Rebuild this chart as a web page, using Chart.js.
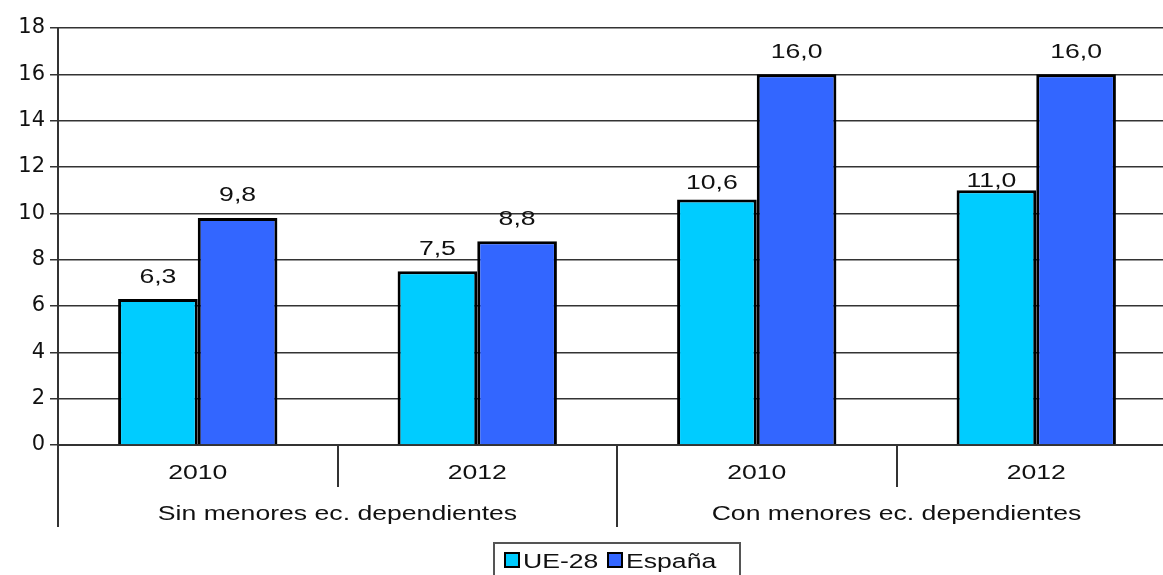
<!DOCTYPE html>
<html>
<head>
<meta charset="utf-8">
<script src="https://cdn.jsdelivr.net/npm/chart.js@4"></script>
<style>
  html, body { margin: 0; padding: 0; background: #fff; overflow: hidden; }
  #wrap { width: 1180px; height: 575px; }
</style>
</head>
<body>
<div id="wrap"><canvas id="myChart"></canvas></div>
<script>
// data
var years = ['2010', '2012', '2010', '2012'];
var groups = ['Sin menores ec. dependientes', 'Con menores ec. dependientes'];
var ue28 = [6.3, 7.5, 10.6, 11.0];
var espana = [9.8, 8.8, 16.0, 16.0];
var yTicks = [0, 2, 4, 6, 8, 10, 12, 14, 16, 18];

var FONT = "'Liberation Sans', Arial, sans-serif";
var TICKFONT = "'DejaVu Sans', sans-serif";
var SX = 1.33; // the original text is drawn wide

function fmt(v) {
    return v.toFixed(1).replace('.', ',');
}

function wideText(ctx, t, x, y, align) {
    ctx.save();
    ctx.translate(x, y);
    ctx.scale(SX, 1);
    ctx.font = '20px ' + FONT;
    ctx.fillStyle = '#111';
    ctx.textAlign = align || 'center';
    ctx.textBaseline = 'middle';
    ctx.fillText(t, 0, 0);
    ctx.restore();
}

// value labels above bars, grouped x axis, and the boxed legend
var extras = {
    id: 'extras',
    afterDatasetsDraw(chart) {
        var ctx = chart.ctx;
        var lifts = [[22, 22, 16, 9], [22, 22, 22, 22]];
        chart.data.datasets.forEach(function (ds, di) {
            chart.getDatasetMeta(di).data.forEach(function (bar, i) {
                wideText(ctx, fmt(ds.data[i]), bar.x - (di == 0 && i > 1 ? 5 : 0), bar.y - lifts[di][i]);
            });
        });
    },
    afterDraw(chart) {
        var ctx = chart.ctx;
        var x = chart.scales.x;
        var area = chart.chartArea;
        var n = years.length;
        var edges = [area.left];
        for (var i = 0; i < n - 1; i++) {
            edges.push((x.getPixelForValue(i) + x.getPixelForValue(i + 1)) / 2);
        }
        edges.push(area.right);

        ctx.save();
        ctx.strokeStyle = '#333';
        ctx.lineWidth = 2;
        edges.forEach(function (ex, i) {
            var long = (i % 2 == 0);
            ctx.beginPath();
            ctx.moveTo(Math.round(ex), area.bottom);
            ctx.lineTo(Math.round(ex), area.bottom + (long ? 82 : 42));
            ctx.stroke();
        });
        ctx.restore();

        years.forEach(function (yr, i) {
            wideText(ctx, yr, x.getPixelForValue(i), area.bottom + 28);
        });
        groups.forEach(function (g, gi) {
            wideText(ctx, g, edges[gi * 2 + 1], area.bottom + 69);
        });

        // legend
        ctx.save();
        ctx.strokeStyle = '#555';
        ctx.lineWidth = 2;
        ctx.strokeRect(494, 543, 246, 40);
        var pos = [505, 608];
        chart.data.datasets.forEach(function (ds, k) {
            ctx.fillStyle = ds.backgroundColor;
            ctx.fillRect(pos[k], 553, 14, 14);
            ctx.strokeStyle = '#000';
            ctx.lineWidth = 2;
            ctx.strokeRect(pos[k], 553, 14, 14);
        });
        ctx.restore();
        chart.data.datasets.forEach(function (ds, k) {
            wideText(ctx, ds.label, pos[k] + 18, 562, 'left');
        });
    }
};

const ctx = document.getElementById('myChart');

var c = new Chart(ctx, {
    type: 'bar',
    data: {
        labels: years,
        datasets: [{
            label: 'UE-28',
            data: ue28,
            backgroundColor: '#00CCFF',
            borderColor: '#000',
            borderWidth: 3
        }, {
            label: 'España',
            data: espana,
            backgroundColor: '#3366FF',
            borderColor: '#000',
            borderWidth: 3
        }]
    },
    options: {
        animation: false,
        responsive: true,
        maintainAspectRatio: false,
        layout: { padding: { top: 28, right: 4, left: 0, bottom: 0 } },
        datasets: { bar: { categoryPercentage: 0.57, barPercentage: 1 } },
        plugins: {
            legend: { display: false },
            tooltip: { enabled: false }
        },
        scales: {
            x: {
                grid: { display: false, drawTicks: false },
                border: { display: true, color: '#333', width: 2 },
                ticks: { display: false },
                afterFit: function (s) { s.height = 130; }
            },
            y: {
                min: 0,
                max: 18,
                afterBuildTicks: function (s) {
                    s.ticks = yTicks.map(function (v) { return { value: v }; });
                },
                grid: { color: '#333', lineWidth: 1.5, tickLength: 8 },
                border: { display: true, color: '#333', width: 2 },
                ticks: {
                    color: '#111',
                    padding: 5,
                    font: { family: TICKFONT, size: 21 }
                },
                afterFit: function (s) { s.width = 58; }
            }
        }
    },
    plugins: [extras]
});
</script>
</body>
</html>
